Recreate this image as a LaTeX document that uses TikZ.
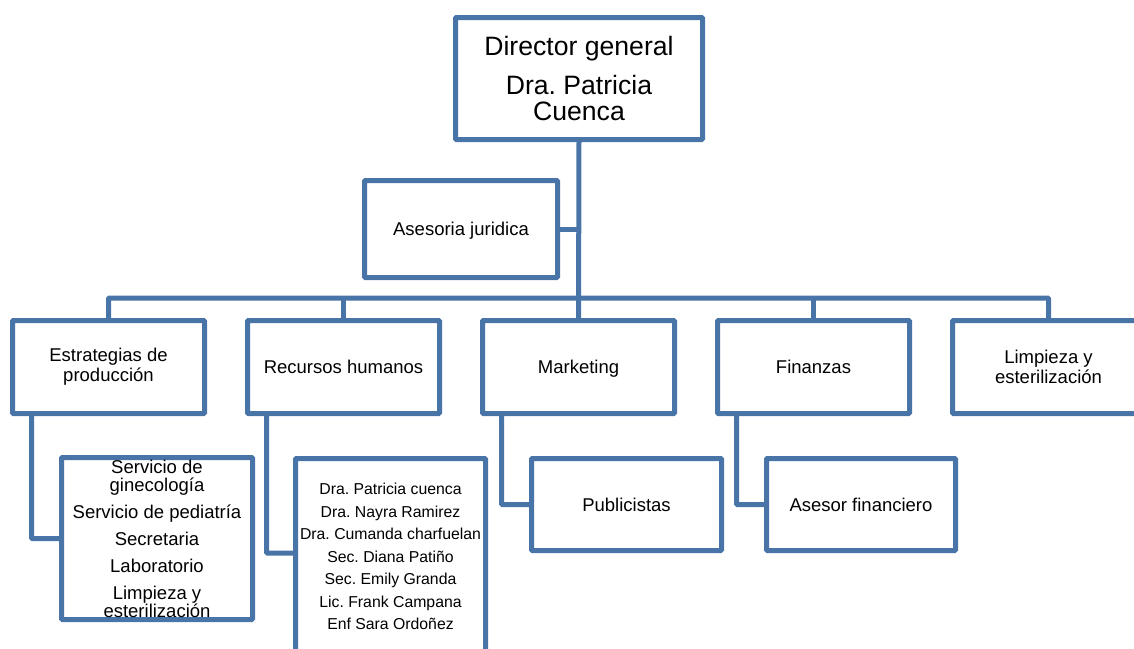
\documentclass[tikz,border=0pt]{standalone}
\usepackage{fontspec}
\setmainfont{Liberation Sans}
\usetikzlibrary{calc,positioning}
\definecolor{orgblue}{RGB}{73,116,168}
\frenchspacing

\begin{document}
\begin{tikzpicture}[x=1pt,y=-1pt]
    \def\boxWidth{192}
    \def\boxHeight{93}
    \def\boxDistance{43pt}
    \def\legOffset{19}

    \tikzstyle{unit}=[draw=orgblue,line width=5pt,rounded corners=1pt,fill=white,align=center,
    inner sep=0pt,outer sep=0pt,font=\fontsize{18.5}{20}\selectfont]
    \tikzstyle{oneline}=[text height=13.5pt,text depth=0pt]
    \tikzstyle{dept}=[unit,minimum width=\boxWidth,minimum height=\boxHeight]
    \tikzstyle{link}=[draw=orgblue,line width=5pt,rounded corners=1pt]

    \useasboundingbox (0,0) rectangle (1134,648);
    \clip (0,0) rectangle (1134,648);

    % Director and advisor
    \node[unit, minimum width=247, minimum height=122, font=\fontsize{26.6}{26}\selectfont] (dir) at (579,78.5)
    {Director general\\[13pt]Dra. Patricia\\Cuenca};
    \node[unit, oneline, minimum width=193, minimum height=97] (ase) at (461,229) {Asesoria juridica};

    % Departments
    \node[dept] (est) at (108.5,367) {Estrategias de\\producción};
    \node[dept, oneline, right=\boxDistance of est] (rrhh) {Recursos humanos};
    \node[dept, oneline, right=\boxDistance of rrhh] (mkt) {Marketing};
    \node[dept, oneline, right=\boxDistance of mkt] (fin) {Finanzas};
    \node[dept, right=\boxDistance of fin] (lim) {Limpieza y\\esterilización};

    % Staff boxes
    \node[unit, minimum width=191, minimum height=162, font=\fontsize{18.5}{18}\selectfont] (estsub) at (157,538.5)
    {Servicio de\\ginecología\\[9pt]Servicio de pediatría\\[9pt]Secretaria\\[9pt]Laboratorio\\[9pt]Limpieza y\\esterilización};
    \node[unit, minimum width=190, minimum height=196, font=\fontsize{15.8}{22.5}\selectfont] (rrhhsub) at (390.5,556.5)
    {Dra. Patricia cuenca\\Dra. Nayra Ramirez\\Dra. Cumanda charfuelan\\Sec. Diana Patiño\\Sec. Emily Granda\\Lic. Frank Campana\\Enf Sara Ordoñez};
    \node[unit, oneline, minimum width=190, minimum height=92] (pub) at (626.5,504.5) {Publicistas};
    \node[unit, oneline, minimum width=189, minimum height=92] (finsub) at (861,504.5) {Asesor financiero};

    % Connectors
    \coordinate (bus) at (0,298);
    \draw[link] (dir.south) -- (mkt.north);
    \draw[link] (ase.east) -- (ase.east -| dir.south);
    \draw[link] (est.north) |- (lim.north |- bus) -- (lim.north);
    \foreach \dep in {rrhh,fin}
      \draw[link] (\dep.north) -- (\dep.north |- bus);

    \draw[link] ($(est.south west)+(\legOffset,0)$) |- (estsub.west);
    \draw[link] ($(rrhh.south west)+(\legOffset,0)$) |- ($(rrhhsub.west)+(0,-3.5)$);
    \draw[link] ($(mkt.south west)+(\legOffset,0)$) |- (pub.west);
    \draw[link] ($(fin.south west)+(\legOffset,0)$) |- (finsub.west);
\end{tikzpicture}
\end{document}
